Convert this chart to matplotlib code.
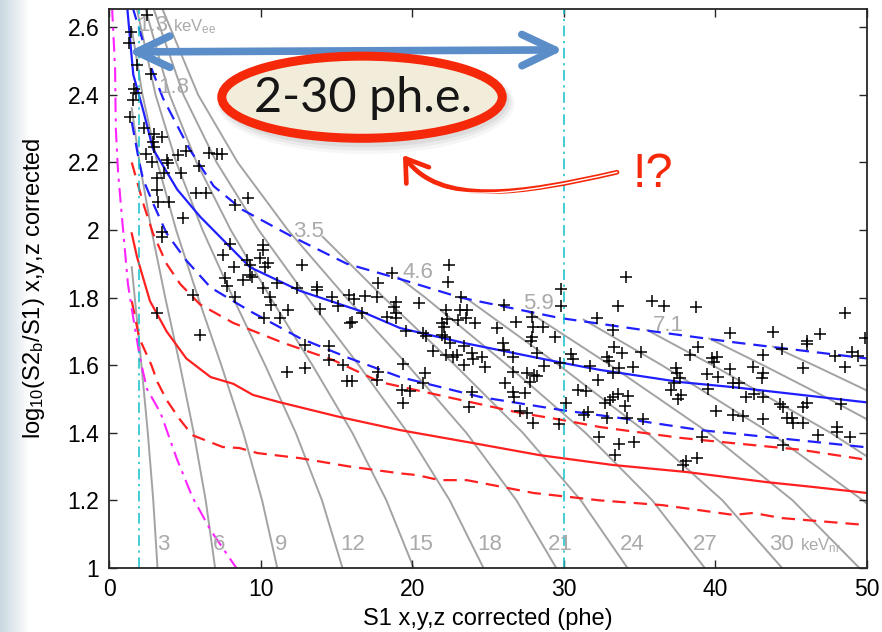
import numpy as np
import matplotlib.pyplot as plt
from matplotlib.patches import Ellipse, FancyArrowPatch
from matplotlib.path import Path
from matplotlib.colors import LinearSegmentedColormap

plt.rcParams['font.family'] = ['Liberation Sans', 'DejaVu Sans']
plt.rcParams['mathtext.fontset'] = 'custom'
plt.rcParams['mathtext.rm'] = 'Liberation Sans'
plt.rcParams['mathtext.default'] = 'regular'

# ---- band lines ----
blue_med_x = [1.2, 1.6, 2.25, 2.9, 4.5, 6.0, 9.3, 12.6, 16.6, 19.2, 23.4, 29.9, 32.4, 37.7, 41.2, 50]
blue_med_y = [2.66, 2.46, 2.355, 2.24, 2.12, 2.04, 1.89, 1.82, 1.76, 1.71, 1.666, 1.607, 1.586, 1.55, 1.535, 1.49]
blue_hi_x = [1.55, 2.7, 3.56, 5.3, 6.9, 8.8, 12.1, 15.7, 19.2, 23.2, 29.7, 35.9, 41.2, 50]
blue_hi_y = [2.66, 2.49, 2.39, 2.24, 2.13, 2.06, 1.98, 1.90, 1.855, 1.80, 1.74, 1.70, 1.668, 1.62]
blue_lo_x = [1.5, 2.0, 2.25, 2.9, 3.8, 5.1, 6.7, 9.3, 12.6, 15.9, 19.2, 24.5, 29.9, 34.0, 39.0, 44.0, 50]
blue_lo_y = [2.32, 2.20, 2.15, 2.08, 1.99, 1.91, 1.83, 1.76, 1.68, 1.62, 1.565, 1.506, 1.467, 1.442, 1.408, 1.385, 1.357]

red_hi_x = [1.5, 2.25, 2.9, 3.8, 4.7, 6.0, 8.2, 11.5, 14.8, 17.9, 22.3, 27.1, 29.9, 32.4, 37.7, 39.0, 45.6, 50]
red_hi_y = [2.20, 2.08, 1.99, 1.90, 1.84, 1.78, 1.725, 1.666, 1.615, 1.55, 1.506, 1.459, 1.438, 1.417, 1.385, 1.379, 1.35, 1.32]
red_med_x = [1.5, 1.85, 2.7, 3.8, 5.1, 6.7, 8.2, 9.5, 11.3, 15.2, 19.2, 23.6, 28.4, 33.2, 38.1, 43.4, 46.4, 50]
red_med_y = [1.99, 1.92, 1.79, 1.70, 1.62, 1.565, 1.545, 1.512, 1.49, 1.447, 1.408, 1.373, 1.334, 1.305, 1.284, 1.254, 1.24, 1.222]
red_lo_x = [1.5, 2.0, 2.8, 3.2, 3.8, 4.7, 5.5, 7.5, 8.6, 9.8, 12.6, 15.9, 19.2, 20.3, 21.8, 23.6, 28.0, 32.4,
            36.5, 38.8, 41.2, 42.5, 44.3, 50]
red_lo_y = [1.79, 1.68, 1.60, 1.55, 1.497, 1.438, 1.393, 1.358, 1.355, 1.34, 1.325, 1.30, 1.28, 1.275, 1.26, 1.26,
            1.222, 1.20, 1.186, 1.172, 1.157, 1.163, 1.148, 1.127]

s2_cut_x = [0.2, 0.4, 0.45, 0.6, 0.85, 1.25, 1.6, 2.05, 2.5, 3.4, 4.5, 5.5, 6.7, 8.4]
s2_cut_y = [2.66, 2.48, 2.30, 2.17, 2.04, 1.84, 1.74, 1.62, 1.53, 1.459, 1.32, 1.21, 1.112, 1.0]

window_s1 = [2, 30]

# ---- constant-energy contours (grey), one (x, y) pair per line ----
lvl = [2.65, 2.4, 2.2, 2.0, 1.8, 1.6, 1.4, 1.2, 1.0]
nr_lines = [
    ([1.5, 1.70, 2.14, 2.56, 2.92, 3.2], [1.89, 1.8, 1.6, 1.4, 1.2, 1.0]),
    ([1.5, 2.01, 2.80, 3.71, 4.68, 5.59, 6.38, 7.0], [2.36, 2.2, 2.0, 1.8, 1.6, 1.4, 1.2, 1.0]),
    ([1.5, 2.21, 3.19, 4.43, 5.88, 7.41, 8.86, 10.1, 11.1], [2.595, 2.4, 2.2, 2.0, 1.8, 1.6, 1.4, 1.2, 1.0]),
    ([1.86, 3.07, 4.44, 6.17, 8.18, 10.3, 12.32, 14.05, 15.4], lvl),
    ([2.43, 4.00, 5.78, 8.03, 10.65, 13.42, 16.05, 18.3, 20.1], lvl),
    ([2.98, 4.91, 7.10, 9.87, 13.09, 16.48, 19.71, 22.48, 24.7], lvl),
    ([3.56, 5.88, 8.49, 11.8, 15.65, 19.71, 23.57, 26.88, 29.5], lvl),
    ([14.1, 18.13, 22.83, 27.3, 31.13, 34.2], [1.98, 1.8, 1.6, 1.4, 1.2, 1.0]),
    ([19.1, 20.87, 26.28, 31.43, 35.84, 39.3], [1.86, 1.8, 1.6, 1.4, 1.2, 1.0]),
    ([23.5, 29.68, 35.49, 40.47, 44.4], [1.80, 1.6, 1.4, 1.2, 1.0]),
    ([27.6, 33.07, 39.55, 45.1, 49.5], [1.76, 1.6, 1.4, 1.2, 1.0]),
    ([31.3, 36.47, 43.61, 49.73, 50], [1.735, 1.6, 1.4, 1.2, 1.19]),
    ([35.5, 39.81, 47.6, 50], [1.704, 1.6, 1.4, 1.33]),
    ([39.6, 43.15, 47.5, 50], [1.679, 1.6, 1.5, 1.44]),
    ([43.8, 46.49, 50], [1.655, 1.6, 1.525]),
]
nr_labels = ['3', '6', '9', '12', '15', '18', '21', '24', '27', '30']
nr_label_x = [3.17, 6.86, 10.95, 15.24, 19.72, 24.27, 28.96, 33.71, 38.53, 43.54]
ee_labels = ['1.3', '1.8', '3.5', '4.6', '5.9', '7.1']
ee_label_x = [1.85, 3.23, 12.14, 19.39, 27.31, 35.88]
ee_label_y = [2.589, 2.405, 1.979, 1.858, 1.766, 1.701]

# ---- events ----
ev_x = [2.51, 1.45, 1.32, 1.85, 2.77, 1.65, 1.78, 1.58, 1.39, 2.31, 2.97, 3.50, 2.90, 2.97,
        2.44, 2.84, 3.83, 3.89, 4.55, 5.08, 6.60, 7.12, 7.45, 3.17, 3.63, 4.75, 5.94, 3.17, 3.23, 3.96,
        5.74, 6.40, 8.31, 9.17, 4.88, 3.50, 3.50, 5.54, 3.17, 6.00, 7.98, 7.52, 10.16, 10.16, 9.10, 9.96,
        10.49, 10.29, 9.30, 8.25, 12.73, 9.30, 9.43, 8.84, 7.65, 7.78, 11.08, 10.16, 12.37, 13.72, 13.72,
        8.31, 10.62, 10.69, 11.28, 10.22, 11.81, 13.92, 14.71, 15.10, 15.83, 16.16, 16.89, 17.68, 16.69,
        16.03, 15.90, 17.74, 12.93, 14.51, 14.51, 12.93, 11.74, 15.43, 15.70, 16.03, 17.74, 17.68,
        18.67, 22.43, 22.36, 23.22, 18.93, 18.80, 18.93, 18.34, 18.93, 20.45, 19.59, 20.71, 20.91, 21.37,
        19.39, 20.84, 20.71, 19.33, 19.85, 19.39, 22.23, 22.29, 21.96, 22.10, 21.96, 22.16, 22.49, 23.15,
        23.62, 23.55, 23.02, 24.14, 23.42, 22.23, 22.95, 22.69, 23.42, 23.94, 24.60, 24.80, 24.01, 23.94,
        23.75, 26.05, 25.59, 25.99, 26.05, 26.65, 26.85, 26.65, 27.57, 28.03, 27.77, 28.23, 26.12, 26.65,
        26.71, 27.44, 27.11, 27.57, 27.97, 27.90, 27.97, 28.63, 27.90, 27.84, 28.23, 28.69, 29.42, 29.81,
        29.81, 29.75, 30.47, 30.61, 30.14, 29.68, 31.73, 32.26, 30.94, 31.46, 31.60, 31.33, 32.19, 32.32,
        34.10, 33.58, 35.82, 36.61, 38.72, 33.24, 33.31, 33.84, 32.85, 32.98, 33.24, 34.56, 35.09, 33.64,
        32.72, 33.05, 33.24, 33.58, 34.23, 34.04, 34.17, 32.85, 35.22, 33.64, 34.63, 33.38, 37.86, 38.06,
        38.78, 37.40, 37.47, 37.66, 37.27, 37.07, 37.73, 37.53, 38.32, 38.85, 39.44, 39.91, 39.77, 40.10,
        40.17, 39.51, 40.04, 39.11, 40.96, 40.96, 41.16, 41.56, 42.02, 42.48, 42.54, 43.14, 43.07, 43.14,
        43.14, 43.14, 41.16, 41.82, 43.80, 44.39, 44.26, 44.46, 44.46, 44.72, 45.05, 45.12, 45.78, 45.78,
        46.04, 46.04, 46.04, 45.78, 46.77, 46.90, 47.89, 48.55, 48.02, 48.02, 48.29, 48.88, 48.55, 49.01,
        49.41, 49.87]
ev_y = [2.636, 2.586, 2.553, 2.488, 2.462, 2.417, 2.405, 2.385, 2.334, 2.302, 2.284, 2.275, 2.260, 2.246,
        2.225, 2.201, 2.207, 2.198, 2.222, 2.234, 2.228, 2.225, 2.225, 2.154, 2.169, 2.169, 2.189, 2.118,
        2.083, 2.083, 2.109, 2.109, 2.074, 2.095, 2.035, 1.994, 1.979, 1.808, 1.754, 1.689, 1.959, 1.926,
        1.956, 1.941, 1.911, 1.917, 1.902, 1.890, 1.896, 1.890, 1.896, 1.867, 1.861, 1.852, 1.858, 1.834,
        1.843, 1.828, 1.828, 1.831, 1.822, 1.802, 1.802, 1.778, 1.740, 1.740, 1.763, 1.766, 1.802, 1.775,
        1.808, 1.796, 1.805, 1.802, 1.754, 1.728, 1.725, 1.843, 1.660, 1.657, 1.615, 1.592, 1.580, 1.600,
        1.553, 1.553, 1.580, 1.556,
        1.873, 1.896, 1.846, 1.802, 1.787, 1.772, 1.754, 1.743, 1.740, 1.784, 1.701, 1.695, 1.686, 1.642,
        1.603, 1.577, 1.547, 1.527, 1.524, 1.488, 1.763, 1.737, 1.725, 1.713, 1.689, 1.683, 1.666, 1.763,
        1.763, 1.740, 1.734, 1.725, 1.657, 1.630, 1.630, 1.624, 1.601, 1.636, 1.624, 1.595, 1.618, 1.521,
        1.476, 1.778, 1.710, 1.666, 1.645, 1.624, 1.728, 1.580, 1.577, 1.571, 1.550, 1.568, 1.547, 1.521,
        1.506, 1.518, 1.464, 1.458, 1.429, 1.743, 1.713, 1.713, 1.683, 1.671, 1.636, 1.598, 1.683, 1.825,
        1.775, 1.606, 1.633, 1.618, 1.488, 1.426, 1.598, 1.556, 1.527, 1.524, 1.461, 1.453, 1.740, 1.387,
        1.861, 1.775, 1.790, 1.775, 1.772, 1.704, 1.654, 1.636, 1.624, 1.612, 1.577, 1.595, 1.639, 1.592,
        1.488, 1.497, 1.506, 1.515, 1.509, 1.479, 1.444, 1.444, 1.441, 1.367, 1.373, 1.334, 1.305, 1.317,
        1.325, 1.592, 1.577, 1.562, 1.547, 1.527, 1.512, 1.500, 1.630, 1.654, 1.574, 1.609, 1.621, 1.624,
        1.565, 1.530, 1.464, 1.387, 1.695, 1.589, 1.547, 1.547, 1.506, 1.595, 1.515, 1.577, 1.562, 1.506,
        1.630, 1.441, 1.453, 1.450, 1.698, 1.648, 1.485, 1.476, 1.364, 1.444, 1.444, 1.429, 1.429, 1.476,
        1.488, 1.672, 1.663, 1.592, 1.393, 1.692, 1.627, 1.595, 1.417, 1.402, 1.485, 1.387, 1.754, 1.639,
        1.627, 1.680]

fig = plt.figure(figsize=(8.82, 6.32), dpi=100)

# slide background strip on the left
bg = fig.add_axes([0, 0, 0.034, 1], zorder=-5)
cm = LinearSegmentedColormap.from_list('slide', ['#c9d7e0', '#ffffff'])
bg.imshow(np.linspace(0, 1, 64)[None, :], aspect='auto', cmap=cm, extent=[0, 1, 0, 1])
bg.axis('off')

ax = fig.add_axes([109 / 882, 64 / 632, 758 / 882, 559 / 632])
ax.set_xlim(0, 50)
ax.set_ylim(1, 2.654)

grey = '#a3a3a3'
for xs, ys in nr_lines:
    ax.plot(xs, ys, color=grey, lw=1.4, zorder=1)

dash = (0, (6, 3.6))
ax.plot(blue_med_x, blue_med_y, color='#1f1fff', lw=1.6, zorder=2)
ax.plot(blue_hi_x, blue_hi_y, color='#1f1fff', lw=1.6, ls=dash, zorder=2)
ax.plot(blue_lo_x, blue_lo_y, color='#1f1fff', lw=1.6, ls=dash, zorder=2)
ax.plot(red_med_x, red_med_y, color='#ff2020', lw=1.6, zorder=2)
ax.plot(red_hi_x, red_hi_y, color='#ff2020', lw=1.6, ls=dash, zorder=2)
ax.plot(red_lo_x, red_lo_y, color='#ff2020', lw=1.6, ls=dash, zorder=2)
ax.plot(s2_cut_x, s2_cut_y, color='#ff22ff', lw=1.5, ls=(0, (7, 3, 1.5, 3)), zorder=2)
for s in window_s1:
    ax.axvline(s, color='#10c0c8', lw=1.1, ls=(0, (7, 3, 1.5, 3)), zorder=2)

ax.plot(ev_x, ev_y, '+', color='k', ms=8.5, mew=1.1, zorder=3)

lab_kw = dict(color='#aaaaaa', fontsize=16, zorder=4)
for t, x in zip(nr_labels, nr_label_x):
    ax.text(x, 1.053, t, va='baseline', **lab_kw)
ax.text(45.58, 1.053, r'keV$_{\mathrm{nr}}$', color='#aaaaaa', fontsize=12, va='baseline', zorder=4)
for t, x, y in zip(ee_labels, ee_label_x, ee_label_y):
    ax.text(x, y, t, va='baseline', **lab_kw)
ax.text(4.2, 2.589, r'keV$_{\mathrm{ee}}$', color='#aaaaaa', fontsize=12, va='baseline', zorder=4)

ax.set_xticks([0, 10, 20, 30, 40, 50])
ax.set_xticklabels(['0', '10', '20', '30', '40', '50'])
ax.set_yticks([1, 1.2, 1.4, 1.6, 1.8, 2, 2.2, 2.4, 2.6])
ax.set_yticklabels(['1', '1.2', '1.4', '1.6', '1.8', '2', '2.2', '2.4', '2.6'])
ax.tick_params(direction='in', length=6, width=1, top=True, right=True, labelsize=16.5, pad=7,
               color='#262626')
for sp in ax.spines.values():
    sp.set_linewidth(1.3)
    sp.set_color('#262626')

ax.set_xlabel('S1 x,y,z corrected (phe)', fontsize=17, va='baseline')
ax.xaxis.set_label_coords(0.5, -0.102)
ax.set_ylabel(r'log$_{10}$(S2$_b$/S1) x,y,z corrected', fontsize=17, va='baseline')
ax.yaxis.set_label_coords(-0.091, 0.5)

# ---- slide annotations ----
ax.annotate('', xy=(1.25, 2.527), xytext=(30.0, 2.533),
            arrowprops=dict(arrowstyle='<->,head_length=0.95,head_width=0.45', lw=5.5,
                            color='#5b8dc9', mutation_scale=25, shrinkA=0, shrinkB=0),
            zorder=6)

for i, a in enumerate([0.05, 0.07, 0.09]):
    ax.add_patch(Ellipse((16.95 - 0.05 * i, 2.375 + 0.004 * i), 19.6 - 0.25 * i, 0.30 - 0.012 * i,
                         facecolor='#555555', edgecolor='none', alpha=a, zorder=6))
ax.add_patch(Ellipse((16.69, 2.393), 18.5, 0.243, facecolor='#f2edda', edgecolor='#f5280a',
                     lw=6.5, zorder=7))
ax.text(16.75, 2.349, '2-30 ph.e.', ha='center', va='baseline', fontsize=35, color='#161616',
        family=['Lato', 'Liberation Sans'], zorder=8)

A, C1, C2, B = (33.51, 2.171), (27.11, 2.105), (21.83, 2.070), (19.39, 2.222)
red_path = Path([A, C1, C2, B], [Path.MOVETO, Path.CURVE4, Path.CURVE4, Path.CURVE4])
ax.add_patch(FancyArrowPatch(path=red_path, arrowstyle='->,head_length=1.5,head_width=1.0',
                             mutation_scale=10, lw=3.4, color='#f5280a', zorder=6))
white_path = Path([A, C1, C2, (19.9, 2.18)], [Path.MOVETO, Path.CURVE4, Path.CURVE4, Path.CURVE4])
ax.add_patch(FancyArrowPatch(path=white_path, arrowstyle='-', lw=1.0, color='white', zorder=6))
ax.text(34.56, 2.127, '!?', color='#f5280a', fontsize=35, va='baseline',
        family=['Liberation Sans Narrow', 'Liberation Sans'], zorder=8)

fig.savefig('out.png', dpi=100)
